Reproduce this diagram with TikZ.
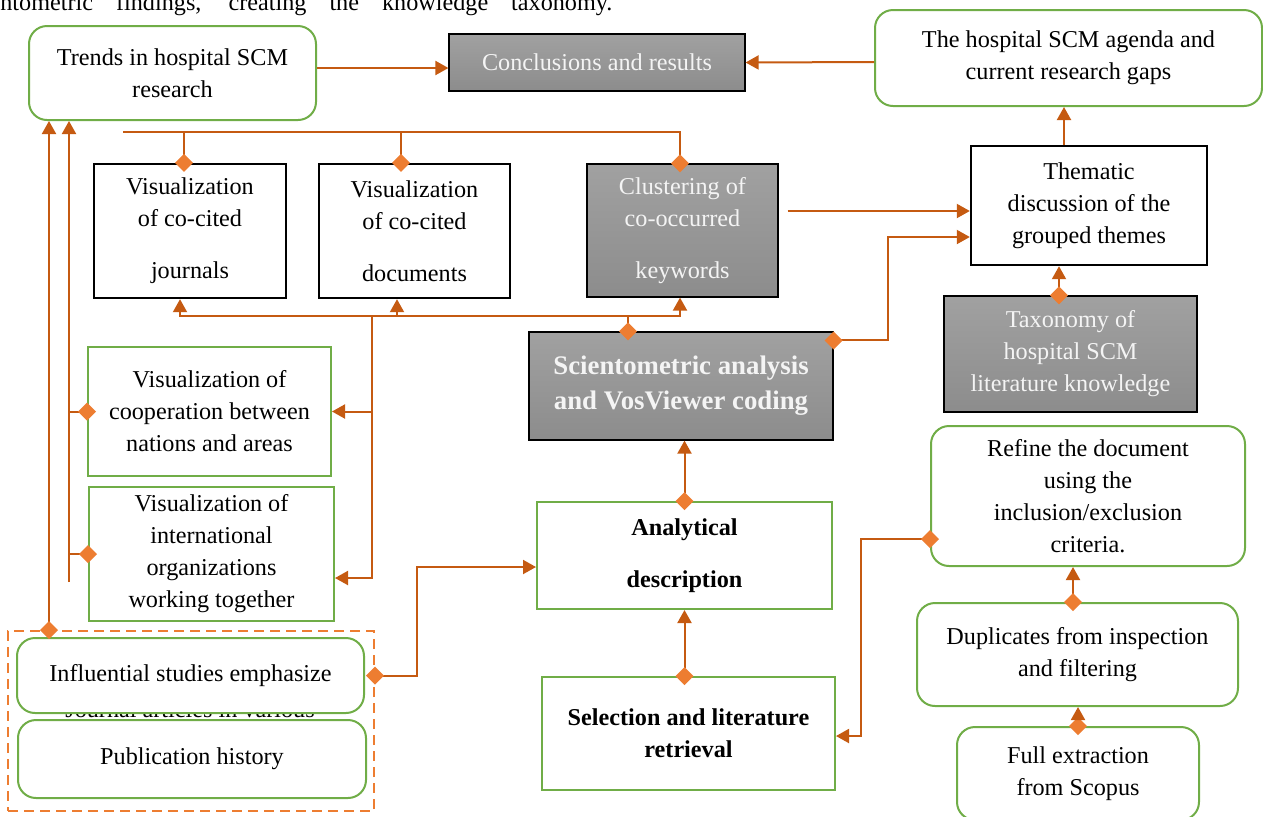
\documentclass[tikz,border=0pt]{standalone}
\usepackage{fontspec}
\setmainfont{Liberation Serif}
\usetikzlibrary{arrows.meta}
\definecolor{linkorange}{RGB}{197,90,17}
\definecolor{tiporange}{RGB}{237,125,49}
\definecolor{framegreen}{RGB}{112,173,71}
\definecolor{paletext}{RGB}{244,244,244}
\tikzset{
  >={Triangle[length=6.5pt,width=7pt]},
  knob/.tip={Diamond[length=9pt,width=9pt,color=tiporange]},
  link/.style={linkorange,line width=1pt},
  arr/.style={link,->},
  knobarr/.style={link,knob->,shorten <=-4.5pt},
  toknob/.style={link,-knob,shorten >=-4.5pt},
  box/.style={inner sep=0pt,align=center},
  roundbox/.style={box,draw=framegreen,line width=1pt,rounded corners=9pt,fill=white},
  greenbox/.style={box,draw=framegreen,line width=1pt,fill=white},
  blackbox/.style={box,draw=black,line width=1.2pt,fill=white},
  shadebox/.style={box,draw=black,line width=0.6pt,top color=black!37,bottom color=black!45,text=paletext},
  dashframe/.style={draw=tiporange,line width=1pt,dash pattern=on 5pt off 3pt,inner sep=0pt},
}
\begin{document}
\begin{tikzpicture}[x=0.5pt,y=-0.5pt,font=\fontsize{12.1}{16}\selectfont]
  \useasboundingbox (0,0) rectangle (1263,816);

  % sentence cut off above the figure
  \node[anchor=base west,inner sep=0pt] (cutline) at (0,10)
    {\makebox[306pt][s]{ntometric findings, creating the knowledge taxonomy.}};

  % top row
  \node[roundbox,minimum width=143.5pt,minimum height=47pt] (trends) at (172.5,73)
    {Trends in hospital SCM\\research};
  \node[shadebox,minimum width=148pt,minimum height=28.5pt] (concl) at (597,62.5)
    {Conclusions and results};
  \node[roundbox,minimum width=193.5pt,minimum height=48pt] (agenda) at (1068.5,58)
    {The hospital SCM agenda and\\current research gaps};

  \node[blackbox,minimum width=96pt,minimum height=67pt] (journals) at (190,231)
    {Visualization\\of co-cited\\[10pt]journals};
  \node[blackbox,minimum width=95.5pt,minimum height=67pt] (documents) at (414.5,231)
    {Visualization\\of co-cited\\[10pt]documents};
  \node[shadebox,minimum width=95.5pt,minimum height=66.5pt] (cluster) at (682.5,230.5)
    {Clustering of\\co-occurred\\[10pt]keywords};
  \node[blackbox,minimum width=118pt,minimum height=59.5pt] (thematic) at (1089,205.5)
    {Thematic\\discussion of the\\grouped themes};
  \node[shadebox,minimum width=126.5pt,minimum height=58pt] (taxonomy) at (1070.5,354)
    {Taxonomy of\\hospital SCM\\literature knowledge};

  % middle
  \node[shadebox,minimum width=152pt,minimum height=54pt,
        font=\fontsize{13.4}{17.5}\selectfont\bfseries] (sciento) at (681,386)
    {Scientometric analysis\\and VosViewer coding};
  \node[greenbox,minimum width=121.5pt,minimum height=64.5pt] (coop) at (209.5,411.5)
    {Visualization of\\cooperation between\\nations and areas};
  \node[greenbox,minimum width=122.5pt,minimum height=67pt] (intl) at (211.5,554)
    {Visualization of\\international\\organizations\\working together};
  \node[greenbox,minimum width=147.5pt,minimum height=53.5pt,font=\fontsize{12.1}{16}\selectfont\bfseries] (analyt) at (684.5,555.5)
    {Analytical\\[10pt]description};
  \node[greenbox,minimum width=146.5pt,minimum height=56.5pt,font=\fontsize{12.1}{16}\selectfont\bfseries] (select) at (688.5,733.5)
    {Selection and literature\\retrieval};

  % right column
  \node[roundbox,minimum width=157pt,minimum height=70pt] (refine) at (1088,496)
    {Refine the document\\using the\\inclusion/exclusion\\criteria.};
  \node[roundbox,minimum width=160.5pt,minimum height=51.5pt] (dupl) at (1077.5,654.5)
    {Duplicates from inspection\\and filtering};
  \node[roundbox,minimum width=121pt,minimum height=46.5pt] (full) at (1078,773.5)
    {Full extraction\\from Scopus};

  % bottom left group
  \node[anchor=base,inner sep=0pt] (hidden) at (190,717) {Journal articles in various};
  \node[dashframe,minimum width=183pt,minimum height=90pt] (dashbox) at (191,721) {};
  \node[roundbox,minimum width=173.5pt,minimum height=37.5pt] (infl) at (190.5,675.5)
    {Influential studies emphasize};
  \node[roundbox,minimum width=174pt,minimum height=39pt] (pub) at (192,759)
    {Publication history};

  \coordinate (bustop) at (123,132);
  \coordinate (bus) at (628,316);
  \coordinate (drop) at (372,316);
  \coordinate (tail) at (69,582);
  \coordinate (kinkA) at (888,237);
  \coordinate (kinkB) at (417,567);
  \coordinate (kinkC) at (861,736);

  % connectors
  \draw[arr] ([yshift=2.5pt]trends.east) -- ([yshift=-2.75pt]concl.west);
  \draw[arr] ([yshift=-2pt]agenda.west) -- (concl.east);
  \draw[toknob] (bustop) -| ([xshift=-1.25pt]cluster.north);
  \draw[toknob] ([xshift=-3pt]journals.north |- bustop) -- ([xshift=-3pt]journals.north);
  \draw[toknob] ([xshift=-6.75pt]documents.north |- bustop) -- ([xshift=-6.75pt]documents.north);
  \draw[link,knob-,shorten <=-4.5pt] (bus |- sciento.north) -- (bus);
  \draw[arr] (bus) -| ([xshift=-5pt]journals.south);
  \draw[arr] (bus) -| ([xshift=-8.75pt]documents.south);
  \draw[arr] (bus) -| ([xshift=-1.25pt]cluster.south);
  \draw[arr] (drop) |- (coop.east);
  \draw[arr] (drop) |- ([yshift=-12pt]intl.east);
  \draw[knobarr] ([yshift=-4.5pt]sciento.north east) -| (kinkA) -- ([yshift=-15.75pt]thematic.west);
  \draw[arr] ([shift={(4.5pt,9.75pt)}]cluster.east) -- ([yshift=-2.75pt]thematic.west);
  \draw[knobarr] ([xshift=-5.75pt]taxonomy.north) -- ([xshift=-15pt]thematic.south);
  \draw[arr] ([xshift=-12.5pt]thematic.north) -- ([xshift=-2.25pt]agenda.south);
  \draw[knobarr] (analyt.north) -- (analyt.north |- sciento.south);
  \draw[knobarr] (select.north -| analyt.south) -- (analyt.south);
  \draw[knobarr] (dashbox.east |- infl.east) -| (kinkB) -- ([yshift=-5.75pt]analyt.west);
  \draw[knobarr] ([yshift=-21.5pt]refine.west) -| (kinkC) -- ([yshift=-1.25pt]select.east);
  \draw[knobarr] ([xshift=-2.25pt]dupl.north) -- ([xshift=-7.5pt]refine.south);
  \draw[knobarr] (full.north) -- (full.north |- dupl.south);
  \draw[knobarr] ([xshift=-71pt]dashbox.north) -- ([xshift=-61.75pt]trends.south);
  \draw[arr] (tail) -- (tail |- trends.south);
  \draw[toknob] (tail |- coop.west) -- (coop.west);
  \draw[toknob] (tail |- intl.west) -- (intl.west);
\end{tikzpicture}
\end{document}
